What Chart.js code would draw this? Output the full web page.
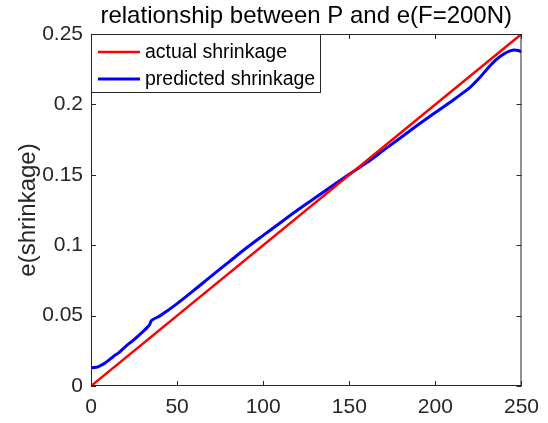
<!DOCTYPE html>
<html>
<head>
<meta charset="utf-8">
<script src="https://cdn.jsdelivr.net/npm/chart.js@4/dist/chart.umd.min.js"></script>
<style>
  body { margin: 0; background: #ffffff; }
  canvas { display: block; }
</style>
</head>
<body>
<canvas id="chart" width="548" height="423"></canvas>
<script>
// data
const actualP = [0, 250];
const actualE = [0, 0.25];

const predictedP = [0, 2, 4, 6, 8, 10, 13, 16, 20, 25, 30, 33, 34, 35, 36, 40, 45, 50, 60, 70, 80, 90, 100, 107, 120, 130, 140, 150, 160, 170, 180, 190, 200, 210, 215, 220, 225, 230, 235, 240, 243, 246, 248, 250];
const predictedE = [0.0130, 0.0131, 0.0136, 0.0148, 0.0162, 0.0180, 0.0210, 0.0235, 0.0280, 0.0330, 0.0385, 0.0420, 0.0435, 0.0462, 0.0472, 0.0498, 0.0540, 0.0585, 0.0682, 0.0782, 0.0880, 0.0978, 0.1070, 0.1133, 0.1250, 0.1335, 0.1420, 0.1504, 0.1585, 0.1675, 0.1765, 0.1855, 0.1942, 0.2028, 0.2073, 0.2120, 0.2180, 0.2250, 0.2315, 0.2360, 0.2378, 0.2386, 0.2383, 0.2374];

const xTicks = [0, 50, 100, 150, 200, 250];
const yTicks = [0, 0.05, 0.1, 0.15, 0.2, 0.25];

const titleText = "relationship between P and e(F=200N)";
const yLabel = "e(shrinkage)";
const seriesNames = ["actual shrinkage", "predicted shrinkage"];

const axisColor = "#262626";
const fontName = "'Liberation Sans', Arial, sans-serif";

const toPoints = (xs, ys) => xs.map((x, i) => ({ x: x, y: ys[i] }));

// draws the matlab style box, inward ticks, title, y label and legend
const matlabFrame = {
  id: "matlabFrame",
  afterDraw(chart) {
    const ctx = chart.ctx;
    const area = chart.chartArea;
    const xs = chart.scales.x;
    const ys = chart.scales.y;
    ctx.save();
    ctx.strokeStyle = axisColor;
    ctx.lineWidth = 1;
    ctx.strokeRect(area.left + 0.5, area.top + 0.5, area.right - area.left - 1, area.bottom - area.top - 1);
    ctx.beginPath();
    xTicks.forEach((t) => {
      const px = Math.round(xs.getPixelForValue(t)) + 0.5;
      ctx.moveTo(px, area.bottom);
      ctx.lineTo(px, area.bottom - 5);
      ctx.moveTo(px, area.top);
      ctx.lineTo(px, area.top + 5);
    });
    yTicks.forEach((t) => {
      const py = Math.round(ys.getPixelForValue(t)) + 0.5;
      ctx.moveTo(area.left, py);
      ctx.lineTo(area.left + 5, py);
      ctx.moveTo(area.right, py);
      ctx.lineTo(area.right - 5, py);
    });
    ctx.stroke();

    // title
    ctx.fillStyle = "#000000";
    ctx.font = "24px " + fontName;
    ctx.textAlign = "center";
    ctx.textBaseline = "alphabetic";
    ctx.fillText(titleText, (area.left + area.right) / 2, 23);

    // y axis label
    ctx.save();
    ctx.translate(35, (area.top + area.bottom) / 2);
    ctx.rotate(-Math.PI / 2);
    ctx.fillStyle = axisColor;
    ctx.fillText(yLabel, 0, 0);
    ctx.restore();

    // legend
    const lx = area.left;
    const ly = area.top;
    ctx.fillStyle = "#ffffff";
    ctx.fillRect(lx, ly, 230, 59);
    ctx.strokeStyle = axisColor;
    ctx.strokeRect(lx + 0.5, ly + 0.5, 229, 58);
    ctx.font = "19.5px " + fontName;
    ctx.textAlign = "left";
    ctx.textBaseline = "middle";
    chart.data.datasets.forEach((ds, i) => {
      const rowY = ly + 18 + i * 27;
      ctx.strokeStyle = ds.borderColor;
      ctx.lineWidth = ds.borderWidth;
      ctx.beginPath();
      ctx.moveTo(lx + 7, rowY);
      ctx.lineTo(lx + 49, rowY);
      ctx.stroke();
      ctx.fillStyle = "#000000";
      ctx.fillText(ds.label, lx + 54, rowY + 1);
    });
    ctx.restore();
  },
};

new Chart(document.getElementById("chart"), {
  type: "line",
  data: {
    datasets: [
      {
        label: seriesNames[0],
        data: toPoints(actualP, actualE),
        borderColor: "#ff0000",
        borderWidth: 2.5,
        pointRadius: 0,
        fill: false,
      },
      {
        label: seriesNames[1],
        data: toPoints(predictedP, predictedE),
        borderColor: "#0000ff",
        borderWidth: 3,
        pointRadius: 0,
        fill: false,
        cubicInterpolationMode: "monotone",
      },
    ],
  },
  options: {
    responsive: false,
    animation: false,
    layout: { padding: { top: 34, right: 17, left: 0, bottom: 0 } },
    plugins: {
      legend: { display: false },
      title: { display: false },
      tooltip: { enabled: false },
    },
    scales: {
      x: {
        type: "linear",
        min: 0,
        max: 250,
        afterFit: (scale) => { scale.height = 37; },
        afterBuildTicks: (scale) => { scale.ticks = xTicks.map((v) => ({ value: v })); },
        grid: { display: false, drawTicks: false },
        border: { display: false },
        ticks: {
          padding: 9,
          color: axisColor,
          font: { family: fontName, size: 21 },
          maxRotation: 0,
          callback: (v) => String(v),
        },
      },
      y: {
        type: "linear",
        min: 0,
        max: 0.25,
        afterFit: (scale) => { scale.width = 91; },
        afterBuildTicks: (scale) => { scale.ticks = yTicks.map((v) => ({ value: v })); },
        grid: { display: false, drawTicks: false },
        border: { display: false },
        ticks: {
          padding: 8,
          color: axisColor,
          font: { family: fontName, size: 21 },
          callback: (v) => String(+v.toFixed(2)),
        },
      },
    },
  },
  plugins: [matlabFrame],
});
</script>
</body>
</html>
